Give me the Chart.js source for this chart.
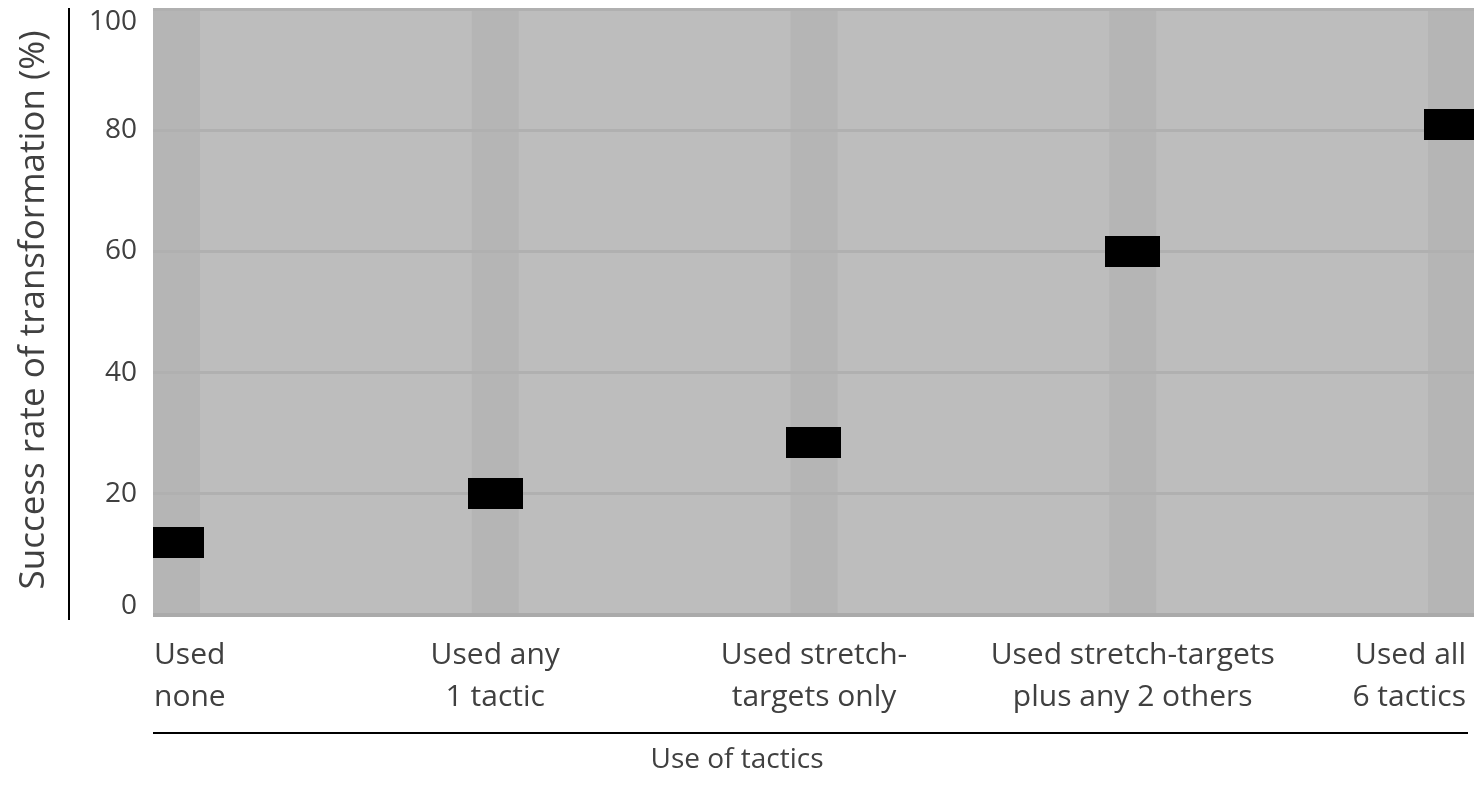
<!DOCTYPE html>
<html>
<head>
<meta charset="utf-8">
<title>Success rate of transformation by use of tactics</title>
<script src="https://cdn.jsdelivr.net/npm/chart.js@4/dist/chart.umd.min.js"></script>
<style>
  html, body { margin: 0; padding: 0; background: #ffffff; }
  #wrap { width: 1474px; height: 792px; position: relative; }
</style>
</head>
<body>
<div id="wrap"><canvas id="chart" width="1474" height="792"></canvas></div>
<script>
// Categories (two-line labels) and the success rate for each
const categories = [
  ['Used', 'none'],
  ['Used any', '1 tactic'],
  ['Used stretch-', 'targets only'],
  ['Used stretch-targets', 'plus any 2 others'],
  ['Used all', '6 tactics']
];
const successRate = [12, 20, 28.5, 60, 81];
const yTicks = [0, 20, 40, 60, 80, 100];
const yTitle = 'Success rate of transformation (%)';
const xTitle = 'Use of tactics';

const FONT = '"Open Sans", sans-serif';
const TEXT = '#404040';
const PLOT_BG = '#bdbdbd';
const BAND = '#b5b5b5';
const GRID = '#b0b0b0';
const BASE = '#aaaaaa';

// Rectangular marker image for each value point
const marker = document.createElement('canvas');
marker.width = 55; marker.height = 31;
const mctx = marker.getContext('2d');
mctx.fillStyle = '#000000';
mctx.fillRect(0, 0, 55, 31);

// Plot background with a shaded column behind each category
const backdrop = {
  id: 'backdrop',
  beforeDraw(chart) {
    const { ctx, chartArea: a, scales: { x } } = chart;
    ctx.save();
    ctx.fillStyle = PLOT_BG;
    ctx.fillRect(a.left, a.top, a.right - a.left, a.bottom - a.top);
    ctx.beginPath();
    ctx.rect(a.left, a.top, a.right - a.left, a.bottom - a.top);
    ctx.clip();
    ctx.fillStyle = BAND;
    categories.forEach((_, i) => {
      const px = x.getPixelForValue(i);
      ctx.fillRect(px - 23.5, a.top, 47, a.bottom - a.top);
    });
    ctx.restore();
  }
};

// Tick labels, axis titles and the two black rules
const labels = {
  id: 'labels',
  afterDraw(chart) {
    const { ctx, chartArea: a, scales: { x, y } } = chart;
    ctx.save();
    ctx.fillStyle = TEXT;

    // y tick labels, kept inside the plot's height
    ctx.font = '28px ' + FONT;
    ctx.textAlign = 'right';
    ctx.textBaseline = 'middle';
    yTicks.forEach(v => {
      let py = y.getPixelForValue(v);
      py = Math.min(Math.max(py, a.top + 13), a.bottom - 9);
      ctx.fillText(String(v), a.left - 16, py);
    });

    // category labels, kept inside the plot's width
    ctx.font = '30px ' + FONT;
    ctx.textBaseline = 'alphabetic';
    categories.forEach((lines, i) => {
      const cx = x.getPixelForValue(i);
      const w = Math.max(...lines.map(s => ctx.measureText(s).width));
      let align = 'center', tx = cx;
      if (cx - w / 2 < a.left) { align = 'left'; tx = a.left + 1; }
      else if (cx + w / 2 > a.right - 8) { align = 'right'; tx = a.right - 8; }
      ctx.textAlign = align;
      lines.forEach((s, k) => ctx.fillText(s, tx, 664 + k * 42));
    });

    // x axis title
    ctx.font = '28px ' + FONT;
    ctx.textAlign = 'center';
    ctx.fillText(xTitle, 737, 768);

    // y axis title
    ctx.save();
    ctx.font = '35px ' + FONT;
    ctx.translate(34, 310);
    ctx.rotate(-Math.PI / 2);
    ctx.textAlign = 'center';
    ctx.textBaseline = 'middle';
    ctx.fillText(yTitle, 0, 0);
    ctx.restore();

    // black rules
    ctx.strokeStyle = '#000000';
    ctx.lineWidth = 2;
    ctx.beginPath();
    ctx.moveTo(69, 8); ctx.lineTo(69, 620);
    ctx.moveTo(a.left, 733); ctx.lineTo(a.right - 6, 733);
    ctx.stroke();
    ctx.restore();
  }
};

new Chart(document.getElementById('chart'), {
  type: 'scatter',
  data: {
    datasets: [{
      data: successRate.map((v, i) => ({ x: i, y: v })),
      pointStyle: marker,
      pointRadius: 28,
      pointHoverRadius: 28,
      showLine: false
    }]
  },
  options: {
    responsive: false,
    animation: false,
    events: [],
    layout: { autoPadding: false, padding: { top: 9, right: 0, left: 0, bottom: 0 } },
    plugins: { legend: { display: false }, tooltip: { enabled: false } },
    scales: {
      x: {
        type: 'linear',
        min: -0.0737,
        max: 4.0706,
        ticks: { display: false },
        grid: { display: false },
        border: { display: false },
        afterFit(scale) { scale.height = 177; }
      },
      y: {
        min: 0,
        max: 100,
        ticks: { display: false, stepSize: 20 },
        grid: {
          drawTicks: false,
          color: ctx => ctx.tick && ctx.tick.value === 0 ? BASE : GRID,
          lineWidth: ctx => ctx.tick && ctx.tick.value === 0 ? 4 : 3
        },
        border: { display: false },
        afterFit(scale) { scale.width = 153; }
      }
    }
  },
  plugins: [backdrop, labels]
});
</script>
</body>
</html>
